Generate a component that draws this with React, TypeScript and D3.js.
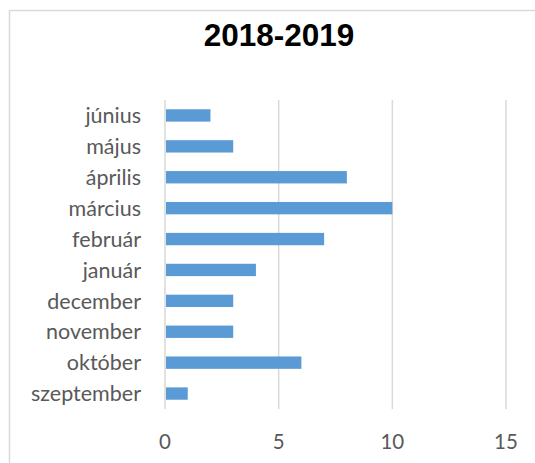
import React from "react";
import * as d3 from "d3";

const months = ["szeptember", "október", "november", "december", "január", "február", "március", "április", "május", "június"];
const values = [1, 6, 3, 3, 4, 7, 10, 8, 3, 2];
const xTicks = [0, 5, 10, 15];
const title = "2018-2019";

export default function App() {
  const W = 535, H = 463;
  const x = d3.scaleLinear().domain([0, 15]).range([165, 506]);
  const y = d3.scaleBand<string>().domain([...months].reverse()).range([100, 409]).paddingInner(0.6).paddingOuter(0.3);
  const textColor = "#595959";
  const labelFont = "Lato, 'Open Sans', sans-serif";
  return (
    <svg width={W} height={H} style={{ position: "absolute", left: 0, top: 0, background: "#fff" }}>
      <line x1={9.5} y1={10} x2={9.5} y2={H} stroke="#d9d9d9" strokeWidth={1.5} />
      <line x1={9} y1={10.5} x2={W} y2={10.5} stroke="#d9d9d9" strokeWidth={1.5} />
      <text x={279} y={46} textAnchor="middle" fontFamily="'Liberation Sans', Arial, sans-serif" fontWeight="bold" fontSize={31.5} fill="#000">{title}</text>
      {xTicks.map((t) => (
        <g key={t}>
          <line x1={x(t)} x2={x(t)} y1={100} y2={409} stroke="#d9d9d9" strokeWidth={1.5} />
          <text x={x(t)} y={449} textAnchor="middle" fontFamily={labelFont} fontSize={20.5} fill={textColor}>{t}</text>
        </g>
      ))}
      {months.map((m, i) => (
        <g key={m}>
          <rect x={x(0) + 1} y={y(m)!} width={x(values[i]) - x(0) - 1} height={y.bandwidth()} fill="#5b9bd5" />
          <text x={141} y={y(m)! + y.bandwidth() / 2} dy="0.36em" textAnchor="end" fontFamily={labelFont} fontSize={21.5} fill={textColor}>{m}</text>
        </g>
      ))}
    </svg>
  );
}
